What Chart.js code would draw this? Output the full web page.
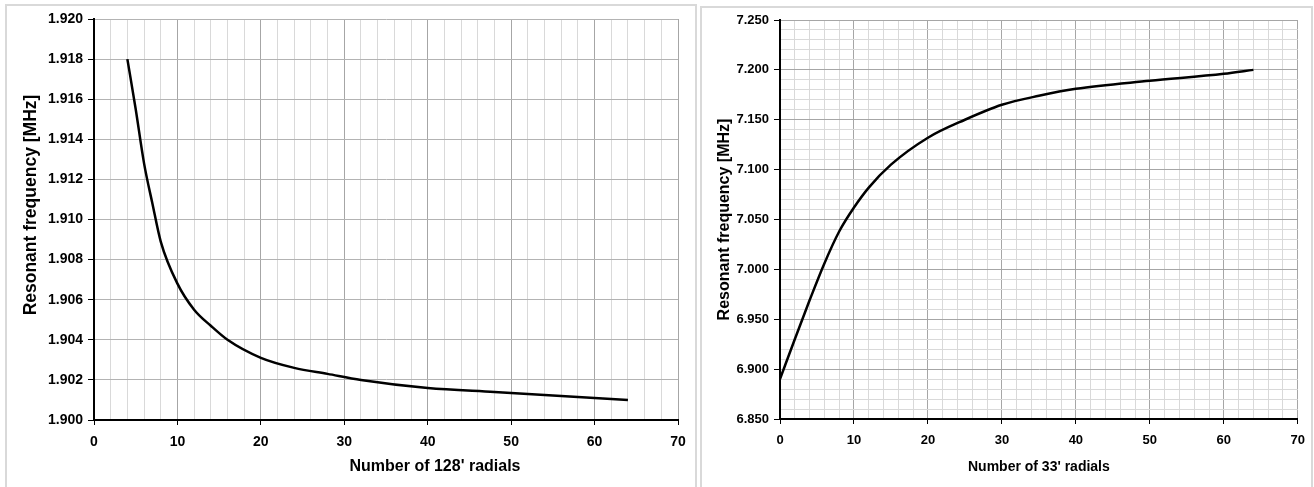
<!DOCTYPE html>
<html>
<head>
<meta charset="utf-8">
<script src="https://cdn.jsdelivr.net/npm/chart.js@4.4.0/dist/chart.umd.min.js"></script>
<style>
  body { margin: 0; background: #fff; width: 1314px; height: 487px; overflow: hidden; position: relative; }
  .panel { position: absolute; border: 2px solid #d9d9d9; box-sizing: border-box; }
  canvas { position: absolute; top: 0; }
</style>
</head>
<body>
<div class="panel" style="left:5px; top:4px; width:692px; height:500px;"></div>
<div class="panel" style="left:700px; top:6px; width:613px; height:500px;"></div>
<canvas id="leftChart" width="697" height="487" style="left:0"></canvas>
<canvas id="rightChart" width="616" height="487" style="left:698px"></canvas>
<script>
// Left chart: 128' radials
const radials128 = [4, 5, 6, 7, 8, 10, 12, 14, 16, 20, 24, 28, 32, 40, 48, 56, 64];
const freq128 = [1.9180, 1.9155, 1.9128, 1.9108, 1.9089, 1.9068, 1.9055, 1.9047, 1.9040, 1.9031, 1.9026, 1.9023, 1.9020, 1.9016, 1.9014, 1.9012, 1.9010];

// Right chart: 33' radials
const radials33 = [0, 2, 4, 6, 8, 10, 12, 15, 20, 25, 30, 35, 40, 50, 60, 64];
const freq33 = [6.890, 6.930, 6.969, 7.006, 7.038, 7.062, 7.082, 7.105, 7.132, 7.150, 7.165, 7.174, 7.181, 7.189, 7.196, 7.200];

const FONT = '"Liberation Sans", Arial, sans-serif';

const isTen = v => Math.round(v) % 10 === 0;
const xGrid = ctx => isTen(ctx.tick.value) ? '#a6a6a6' : '#d9d9d9';
const xTick = ctx => isTen(ctx.tick.value) ? '#000' : 'rgba(0,0,0,0)';

// the left chart's axis titles sit off-centre in the original, so draw them by hand
const leftTitles = {
  id: 'leftTitles',
  afterDraw(chart) {
    const ctx = chart.ctx;
    ctx.save();
    ctx.fillStyle = '#000';
    ctx.textAlign = 'center';
    ctx.textBaseline = 'middle';
    ctx.font = 'bold 16px ' + FONT;
    ctx.fillText("Number of 128' radials", 435, 467);
    ctx.translate(31, 205);
    ctx.rotate(-Math.PI / 2);
    ctx.font = 'bold 17.5px ' + FONT;
    ctx.fillText('Resonant frequency [MHz]', 0, 0);
    ctx.restore();
  }
};

new Chart(document.getElementById('leftChart'), {
  type: 'line',
  data: {
    datasets: [{
      data: radials128.map((x, i) => ({ x: x, y: freq128[i] })),
      borderColor: '#000',
      borderWidth: 2.5,
      pointRadius: 0,
      cubicInterpolationMode: 'monotone'
    }]
  },
  options: {
    responsive: false,
    animation: false,
    layout: { padding: { left: 0, right: 19, top: 19, bottom: 0 } },
    plugins: { legend: { display: false }, tooltip: { enabled: false } },
    scales: {
      x: {
        type: 'linear', min: 0, max: 70,
        afterFit: s => { s.height = 67; },
        border: { color: '#000', width: 2 },
        grid: { color: xGrid, tickColor: xTick, tickLength: 5 },
        ticks: {
          stepSize: 2, autoSkip: false, maxRotation: 0, padding: 9,
          color: '#000', font: { family: FONT, size: 14, weight: 'bold' },
          callback: v => isTen(v) ? Math.round(v) : ''
        }
      },
      y: {
        min: 1.900, max: 1.920,
        afterFit: s => { s.width = 94; },
        border: { color: '#000', width: 2 },
        grid: { color: '#b3b3b3', tickColor: '#000', tickLength: 6 },
        ticks: {
          stepSize: 0.002, autoSkip: false, padding: 5,
          color: '#000', font: { family: FONT, size: 14, weight: 'bold' },
          callback: v => v.toFixed(3)
        }
      }
    }
  },
  plugins: [leftTitles]
});

new Chart(document.getElementById('rightChart'), {
  type: 'line',
  data: {
    datasets: [{
      data: radials33.map((x, i) => ({ x: x, y: freq33[i] })),
      borderColor: '#000',
      borderWidth: 2.5,
      pointRadius: 0,
      cubicInterpolationMode: 'monotone'
    }]
  },
  options: {
    responsive: false,
    animation: false,
    layout: { padding: { left: 0, right: 16, top: 20, bottom: 0 } },
    plugins: { legend: { display: false }, tooltip: { enabled: false } },
    scales: {
      x: {
        type: 'linear', min: 0, max: 70,
        afterFit: s => { s.height = 68; },
        border: { color: '#000', width: 2 },
        grid: { color: xGrid, tickColor: xTick, tickLength: 5 },
        ticks: {
          stepSize: 2, autoSkip: false, maxRotation: 0, padding: 9,
          color: '#000', font: { family: FONT, size: 13, weight: 'bold' },
          callback: v => isTen(v) ? Math.round(v) : ''
        },
        title: {
          display: true, text: "Number of 33' radials",
          color: '#000', font: { family: FONT, size: 14, weight: 'bold' },
          padding: { top: 0, bottom: 11 }
        }
      },
      y: {
        min: 6.850, max: 7.250,
        afterFit: s => { s.width = 82; },
        border: { color: '#000', width: 2 },
        grid: {
          color: ctx => Math.round(ctx.tick.value * 1000) % 50 === 0 ? '#a6a6a6' : '#d9d9d9',
          tickColor: ctx => Math.round(ctx.tick.value * 1000) % 50 === 0 ? '#000' : 'rgba(0,0,0,0)',
          tickLength: 6
        },
        ticks: {
          stepSize: 0.01, autoSkip: false, padding: 5,
          color: '#000', font: { family: FONT, size: 13, weight: 'bold' },
          callback: v => Math.round(v * 1000) % 50 === 0 ? v.toFixed(3) : ''
        },
        title: {
          display: true, text: 'Resonant frequency [MHz]',
          color: '#000', font: { family: FONT, size: 16, weight: 'bold' },
          padding: { top: 17, bottom: 0 }
        }
      }
    }
  }
});
</script>
</body>
</html>
